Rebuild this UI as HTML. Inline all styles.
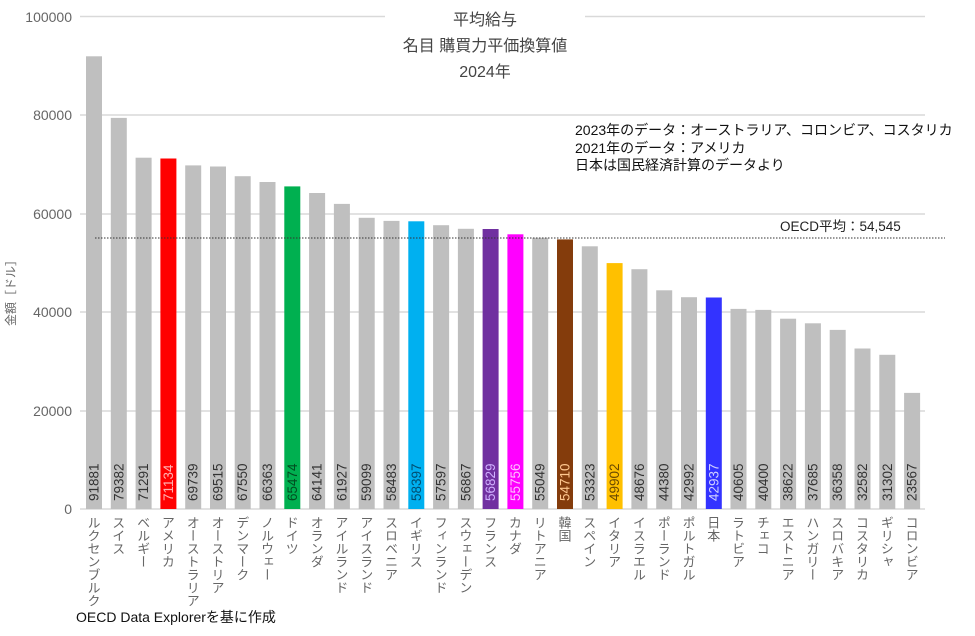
<!DOCTYPE html>
<html><head><meta charset="utf-8"><style>
body{margin:0;background:#fff}
svg{display:block;font-family:"Liberation Sans","Noto Sans CJK JP",sans-serif}
.v{font-size:13.5px;fill:#333}
.c{font-size:13px;fill:#666;writing-mode:vertical-rl;font-family:"Noto Sans CJK JP",sans-serif}
.y{font-size:14px;fill:#666;text-anchor:end}
</style></head><body>
<svg width="975" height="636" viewBox="0 0 975 636">
<g stroke="#d9d9d9" stroke-width="1.5">
<line x1="80" y1="16.5" x2="385" y2="16.5"/><line x1="585" y1="16.5" x2="925" y2="16.5"/>
<line x1="80" y1="115" x2="925" y2="115"/><line x1="80" y1="214" x2="925" y2="214"/>
<line x1="80" y1="312" x2="925" y2="312"/><line x1="80" y1="411" x2="925" y2="411"/>
<line x1="80" y1="509" x2="925" y2="509"/>
</g>
<g class="y"><text x="72" y="22">100000</text><text x="72" y="120">80000</text><text x="72" y="219">60000</text><text x="72" y="317">40000</text><text x="72" y="416">20000</text><text x="72" y="514">0</text></g>
<text transform="translate(15,290) rotate(-90)" text-anchor="middle" style="font-size:12px;fill:#666">金額［ドル］</text>
<g font-size="16" fill="#444" text-anchor="middle"><text x="485" y="25">平均給与</text><text x="485" y="51">名目 購買力平価換算値</text><text x="485" y="77">2024年</text></g>
<g font-size="14" fill="#111"><text x="575" y="135">2023年のデータ：オーストラリア、コロンビア、コスタリカ</text><text x="575" y="153">2021年のデータ：アメリカ</text><text x="575" y="170">日本は国民経済計算のデータより</text></g>
<g fill="#bfbfbf">
<rect x="86" y="56.3" width="16" height="452.7"/>
<rect x="110.8" y="117.9" width="16" height="391.1"/>
<rect x="135.6" y="157.7" width="16" height="351.3"/>
<rect x="160.4" y="158.5" width="16" height="350.5" fill="#ff0000"/>
<rect x="185.2" y="165.4" width="16" height="343.6"/>
<rect x="210" y="166.5" width="16" height="342.5"/>
<rect x="234.7" y="176.2" width="16" height="332.8"/>
<rect x="259.5" y="182" width="16" height="327"/>
<rect x="284.3" y="186.4" width="16" height="322.6" fill="#00b050"/>
<rect x="309.1" y="193" width="16" height="316"/>
<rect x="333.9" y="203.9" width="16" height="305.1"/>
<rect x="358.7" y="217.8" width="16" height="291.2"/>
<rect x="383.5" y="220.9" width="16" height="288.1"/>
<rect x="408.3" y="221.3" width="16" height="287.7" fill="#00b0f0"/>
<rect x="433.1" y="225.2" width="16" height="283.8"/>
<rect x="457.9" y="228.8" width="16" height="280.2"/>
<rect x="482.6" y="229" width="16" height="280" fill="#7030a0"/>
<rect x="507.4" y="234.3" width="16" height="274.7" fill="#ff00ff"/>
<rect x="532.2" y="237.8" width="16" height="271.2"/>
<rect x="557" y="239.4" width="16" height="269.6" fill="#843c0c"/>
<rect x="581.8" y="246.3" width="16" height="262.7"/>
<rect x="606.6" y="263.1" width="16" height="245.9" fill="#ffc000"/>
<rect x="631.4" y="269.2" width="16" height="239.8"/>
<rect x="656.2" y="290.3" width="16" height="218.7"/>
<rect x="681" y="297.2" width="16" height="211.8"/>
<rect x="705.8" y="297.5" width="16" height="211.5" fill="#3333ff"/>
<rect x="730.5" y="308.9" width="16" height="200.1"/>
<rect x="755.3" y="309.9" width="16" height="199.1"/>
<rect x="780.1" y="318.7" width="16" height="190.3"/>
<rect x="804.9" y="323.3" width="16" height="185.7"/>
<rect x="829.7" y="329.9" width="16" height="179.1"/>
<rect x="854.5" y="348.5" width="16" height="160.5"/>
<rect x="879.3" y="354.8" width="16" height="154.2"/>
<rect x="904.1" y="392.9" width="16" height="116.1"/>
</g>
<line x1="95" y1="238" x2="945" y2="238" stroke="#333" stroke-width="1" stroke-dasharray="1.5,1.5"/>
<text x="780" y="231" font-size="13.5" fill="#222">OECD平均：54,545</text>
<g class="v">
<text transform="translate(98.5,501) rotate(-90)">91881</text>
<text transform="translate(123.3,501) rotate(-90)">79382</text>
<text transform="translate(148.1,501) rotate(-90)">71291</text>
<text transform="translate(172.9,501) rotate(-90)" style="fill:#ffb0b0">71134</text>
<text transform="translate(197.7,501) rotate(-90)">69739</text>
<text transform="translate(222.5,501) rotate(-90)">69515</text>
<text transform="translate(247.2,501) rotate(-90)">67550</text>
<text transform="translate(272,501) rotate(-90)">66363</text>
<text transform="translate(296.8,501) rotate(-90)" style="fill:#004d20">65474</text>
<text transform="translate(321.6,501) rotate(-90)">64141</text>
<text transform="translate(346.4,501) rotate(-90)">61927</text>
<text transform="translate(371.2,501) rotate(-90)">59099</text>
<text transform="translate(396,501) rotate(-90)">58483</text>
<text transform="translate(420.8,501) rotate(-90)" style="fill:#004d70">58397</text>
<text transform="translate(445.6,501) rotate(-90)">57597</text>
<text transform="translate(470.4,501) rotate(-90)">56867</text>
<text transform="translate(495.1,501) rotate(-90)" style="fill:#d0b0ff">56829</text>
<text transform="translate(519.9,501) rotate(-90)" style="fill:#ffc0ff">55756</text>
<text transform="translate(544.7,501) rotate(-90)">55049</text>
<text transform="translate(569.5,501) rotate(-90)" style="fill:#ffc890">54710</text>
<text transform="translate(594.3,501) rotate(-90)">53323</text>
<text transform="translate(619.1,501) rotate(-90)" style="fill:#6b4a00">49902</text>
<text transform="translate(643.9,501) rotate(-90)">48676</text>
<text transform="translate(668.7,501) rotate(-90)">44380</text>
<text transform="translate(693.5,501) rotate(-90)">42992</text>
<text transform="translate(718.3,501) rotate(-90)" style="fill:#d0d0ff">42937</text>
<text transform="translate(743,501) rotate(-90)">40605</text>
<text transform="translate(767.8,501) rotate(-90)">40400</text>
<text transform="translate(792.6,501) rotate(-90)">38622</text>
<text transform="translate(817.4,501) rotate(-90)">37685</text>
<text transform="translate(842.2,501) rotate(-90)">36358</text>
<text transform="translate(867,501) rotate(-90)">32582</text>
<text transform="translate(891.8,501) rotate(-90)">31302</text>
<text transform="translate(916.6,501) rotate(-90)">23567</text>
</g>
<g class="c">
<text x="94" y="516">ルクセンブルク</text>
<text x="118.8" y="516">スイス</text>
<text x="143.6" y="516">ベルギー</text>
<text x="168.4" y="516">アメリカ</text>
<text x="193.2" y="516">オーストラリア</text>
<text x="218" y="516">オーストリア</text>
<text x="242.7" y="516">デンマーク</text>
<text x="267.5" y="516">ノルウェー</text>
<text x="292.3" y="516">ドイツ</text>
<text x="317.1" y="516">オランダ</text>
<text x="341.9" y="516">アイルランド</text>
<text x="366.7" y="516">アイスランド</text>
<text x="391.5" y="516">スロベニア</text>
<text x="416.3" y="516">イギリス</text>
<text x="441.1" y="516">フィンランド</text>
<text x="465.9" y="516">スウェーデン</text>
<text x="490.6" y="516">フランス</text>
<text x="515.4" y="516">カナダ</text>
<text x="540.2" y="516">リトアニア</text>
<text x="565" y="516">韓国</text>
<text x="589.8" y="516">スペイン</text>
<text x="614.6" y="516">イタリア</text>
<text x="639.4" y="516">イスラエル</text>
<text x="664.2" y="516">ポーランド</text>
<text x="689" y="516">ポルトガル</text>
<text x="713.8" y="516">日本</text>
<text x="738.5" y="516">ラトビア</text>
<text x="763.3" y="516">チェコ</text>
<text x="788.1" y="516">エストニア</text>
<text x="812.9" y="516">ハンガリー</text>
<text x="837.7" y="516">スロバキア</text>
<text x="862.5" y="516">コスタリカ</text>
<text x="887.3" y="516">ギリシャ</text>
<text x="912.1" y="516">コロンビア</text>
</g>
<text x="76" y="622" font-size="14" fill="#111">OECD Data Explorerを基に作成</text>
</svg>
</body></html>
